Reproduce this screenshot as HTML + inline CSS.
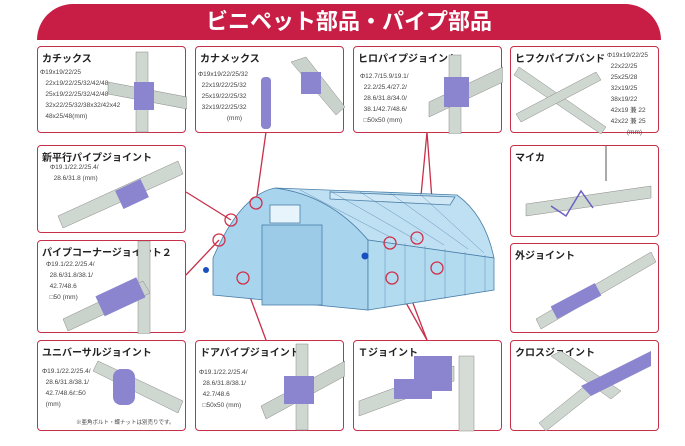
<!DOCTYPE html>
<html><head><meta charset="utf-8"><style>
body{margin:0;width:685px;height:446px;background:#fff;position:relative;overflow:hidden;font-family:"Liberation Sans","Noto Sans CJK JP",sans-serif}
.b{position:absolute;border:1.5px solid #c8304a;border-radius:4px;background:#fff;box-sizing:border-box}
.t{position:absolute;left:4px;top:3px;font-size:10px;font-weight:bold;color:#222;white-space:nowrap}
.s{position:absolute;font-size:6.5px;color:#444;line-height:11px;white-space:nowrap}
svg{position:absolute;left:0;top:0}
</style></head><body>
<div style="position:absolute;left:37px;top:4px;width:624px;height:36px;background:#c81e45;border-radius:40px 40px 0 0;color:#fff;font-weight:bold;font-size:22px;text-align:center;line-height:36px">ビニペット部品・パイプ部品</div>

<svg width="685" height="446">
<g stroke="#c8304a" stroke-width="1.3" fill="none">
<line x1="266" y1="132" x2="256" y2="203"/><line x1="427" y1="132" x2="417" y2="238"/><line x1="427" y1="132" x2="437" y2="268"/>
<line x1="186" y1="192" x2="231" y2="220"/><line x1="186" y1="275" x2="219" y2="240"/>
<line x1="266" y1="340" x2="243" y2="278"/><line x1="427" y1="340" x2="390" y2="243"/><line x1="427" y1="340" x2="392" y2="278"/>
</g>
<g stroke="#4a7fa8" stroke-width="0.8">
<path d="M213,295 L213,258 Q240,195 275,188 Q330,195 368,240 L368,310 Z" fill="#a9d4ee"/>
<path d="M275,188 L457,195 Q485,215 494,258 L368,240 Q330,195 275,188Z" fill="#bfe0f3"/>
<path d="M368,240 L494,258 L494,290 L368,310Z" fill="#b3dbf0"/>
<rect x="262" y="225" width="60" height="80" fill="#9ccbe8"/>
<rect x="270" y="205" width="30" height="18" fill="#e8f4fb"/>
<path d="M330,192 L455,197 L450,205 L330,199Z" fill="#d0e8f5"/>
</g>
<g stroke="#4a7fa8" stroke-width="0.4">
<line x1="385" y1="240" x2="385" y2="308"/><line x1="405" y1="243" x2="405" y2="305"/><line x1="425" y1="246" x2="425" y2="302"/><line x1="445" y1="249" x2="445" y2="299"/><line x1="465" y1="252" x2="465" y2="296"/><line x1="485" y1="255" x2="485" y2="292"/>
<line x1="300" y1="190" x2="392" y2="238"/><line x1="330" y1="191" x2="418" y2="241"/><line x1="360" y1="192" x2="444" y2="245"/><line x1="390" y1="193" x2="468" y2="249"/><line x1="420" y1="194" x2="484" y2="253"/>
</g>
<g stroke="#d0304a" stroke-width="1.3" fill="none">
<circle cx="256" cy="203" r="6"/><circle cx="231" cy="220" r="6"/><circle cx="219" cy="240" r="6"/><circle cx="243" cy="278" r="6"/><circle cx="390" cy="243" r="6"/><circle cx="417" cy="238" r="6"/><circle cx="437" cy="268" r="6"/><circle cx="392" cy="278" r="6"/>
</g>
<circle cx="365" cy="256" r="3.5" fill="#1a4fc0"/><circle cx="206" cy="270" r="3" fill="#1a4fc0"/>
</svg>

<div class="b" style="left:37px;top:46px;width:149px;height:87px"><div class="t">カチックス</div>
<div class="s" style="left:2px;top:20px">Φ19x19/22/25<br>&nbsp;&nbsp;&nbsp;22x19/22/25/32/42/48<br>&nbsp;&nbsp;&nbsp;25x19/22/25/32/42/48<br>&nbsp;&nbsp;&nbsp;32x22/25/32/38x32/42x42<br>&nbsp;&nbsp;&nbsp;48x25/48(mm)</div>
<svg width="149" height="87"><rect x="98" y="5" width="12" height="80" fill="#cfd8d0" stroke="#888" stroke-width=".5"/><path d="M70,35 L149,50 L149,62 L70,47Z" fill="#c9d3cb" stroke="#888" stroke-width=".5"/><rect x="96" y="35" width="20" height="28" fill="#8b85cf"/></svg></div>

<div class="b" style="left:195px;top:46px;width:149px;height:87px"><div class="t">カナメックス</div>
<div class="s" style="left:2px;top:22px">Φ19x19/22/25/32<br>&nbsp;&nbsp;22x19/22/25/32<br>&nbsp;&nbsp;25x19/22/25/32<br>&nbsp;&nbsp;32x19/22/25/32<br>&nbsp;&nbsp;&nbsp;&nbsp;&nbsp;&nbsp;&nbsp;&nbsp;&nbsp;&nbsp;&nbsp;&nbsp;&nbsp;&nbsp;&nbsp;&nbsp;(mm)</div>
<svg width="149" height="87"><rect x="65" y="30" width="10" height="52" rx="4" fill="#8b85cf"/><path d="M95,15 L110,10 L149,60 L140,68Z" fill="#c9d3cb" stroke="#888" stroke-width=".5"/><rect x="105" y="25" width="20" height="22" fill="#8b85cf"/></svg></div>

<div class="b" style="left:353px;top:46px;width:149px;height:87px"><div class="t">ヒロパイプジョイント</div>
<div class="s" style="left:6px;top:24px">Φ12.7/15.9/19.1/<br>&nbsp;&nbsp;22.2/25.4/27.2/<br>&nbsp;&nbsp;28.6/31.8/34.0/<br>&nbsp;&nbsp;38.1/42.7/48.6/<br>&nbsp;&nbsp;□50x50 (mm)</div>
<svg width="149" height="87"><rect x="95" y="8" width="12" height="79" fill="#cfd8d0" stroke="#888" stroke-width=".5"/><path d="M75,55 L149,20 L149,35 L75,70Z" fill="#c9d3cb" stroke="#888" stroke-width=".5"/><rect x="90" y="30" width="25" height="30" fill="#8b85cf"/></svg></div>

<div class="b" style="left:510px;top:46px;width:149px;height:87px"><div class="t">ヒフクパイプバンド</div>
<div class="s" style="left:96px;top:3px">Φ19x19/22/25<br>&nbsp;&nbsp;22x22/25<br>&nbsp;&nbsp;25x25/28<br>&nbsp;&nbsp;32x19/25<br>&nbsp;&nbsp;38x19/22<br>&nbsp;&nbsp;42x19 兼 22<br>&nbsp;&nbsp;42x22 兼 25<br>&nbsp;&nbsp;&nbsp;&nbsp;&nbsp;&nbsp;&nbsp;&nbsp;&nbsp;&nbsp;&nbsp;(mm)</div>
<svg width="149" height="87"><path d="M3,28 L8,20 L95,80 L90,87Z" fill="#cfd8d0" stroke="#888" stroke-width=".5"/><path d="M10,75 L5,67 L85,25 L90,33Z" fill="#cfd8d0" stroke="#888" stroke-width=".5"/></svg></div>

<div class="b" style="left:37px;top:145px;width:149px;height:88px"><div class="t">新平行パイプジョイント</div>
<div class="s" style="left:12px;top:16px">Φ19.1/22.2/25.4/<br>&nbsp;&nbsp;28.6/31.8 (mm)</div>
<svg width="149" height="88"><path d="M25,82 L20,70 L140,15 L145,28Z" fill="#cfd8d0" stroke="#888" stroke-width=".5"/><rect x="80" y="38" width="28" height="20" fill="#8b85cf" transform="rotate(-25 94 48)"/></svg></div>

<div class="b" style="left:37px;top:240px;width:149px;height:93px"><div class="t">パイプコーナージョイント２</div>
<div class="s" style="left:8px;top:18px">Φ19.1/22.2/25.4/<br>&nbsp;&nbsp;28.6/31.8/38.1/<br>&nbsp;&nbsp;42.7/48.6<br>&nbsp;&nbsp;□50 (mm)</div>
<svg width="149" height="93"><rect x="100" y="0" width="12" height="93" fill="#cfd8d0" stroke="#888" stroke-width=".5"/><path d="M30,90 L25,78 L105,40 L112,52Z" fill="#c9d3cb" stroke="#888" stroke-width=".5"/><rect x="60" y="45" width="45" height="22" fill="#8b85cf" transform="rotate(-25 82 56)"/></svg></div>

<div class="b" style="left:510px;top:145px;width:149px;height:92px"><div class="t">マイカ</div>
<svg width="149" height="92"><path d="M15,70 L15,58 L140,40 L140,52Z" fill="#cfd8d0" stroke="#888" stroke-width=".5"/><path d="M40,60 L55,70 L70,45 L82,62" stroke="#6a60c0" stroke-width="1.5" fill="none"/><line x1="95" y1="0" x2="95" y2="35" stroke="#555"/></svg></div>

<div class="b" style="left:510px;top:243px;width:149px;height:90px"><div class="t">外ジョイント</div>
<svg width="149" height="90"><path d="M30,85 L25,75 L140,8 L145,18Z" fill="#cfd8d0" stroke="#888" stroke-width=".5"/><rect x="40" y="50" width="50" height="14" fill="#8b85cf" transform="rotate(-28 65 57)"/></svg></div>

<div class="b" style="left:37px;top:340px;width:149px;height:91px"><div class="t">ユニバーサルジョイント</div>
<div class="s" style="left:4px;top:25px">Φ19.1/22.2/25.4/<br>&nbsp;&nbsp;28.6/31.8/38.1/<br>&nbsp;&nbsp;42.7/48.6/□50<br>&nbsp;&nbsp;(mm)</div>
<div class="s" style="left:38px;top:77px;font-size:5.5px">※亜角ボルト・蝶ナットは別売りです。</div>
<svg width="149" height="91"><path d="M55,30 L60,20 L145,60 L140,72Z" fill="#cfd8d0" stroke="#888" stroke-width=".5"/><rect x="75" y="28" width="22" height="36" rx="8" fill="#8b85cf"/></svg></div>

<div class="b" style="left:195px;top:340px;width:149px;height:91px"><div class="t">ドアパイプジョイント</div>
<div class="s" style="left:3px;top:26px">Φ19.1/22.2/25.4/<br>&nbsp;&nbsp;28.6/31.8/38.1/<br>&nbsp;&nbsp;42.7/48.6<br>&nbsp;&nbsp;□50x50 (mm)</div>
<svg width="149" height="91"><rect x="100" y="3" width="12" height="86" fill="#cfd8d0" stroke="#888" stroke-width=".5"/><path d="M65,65 L149,20 L149,35 L70,78Z" fill="#c9d3cb" stroke="#888" stroke-width=".5"/><rect x="88" y="35" width="30" height="28" fill="#8b85cf"/></svg></div>

<div class="b" style="left:353px;top:340px;width:149px;height:91px"><div class="t">Ｔジョイント</div>
<svg width="149" height="91"><path d="M5,75 L5,60 L100,25 L100,40Z" fill="#cfd8d0" stroke="#888" stroke-width=".5"/><rect x="105" y="15" width="15" height="75" fill="#d5dcd5" stroke="#888" stroke-width=".5"/><rect x="60" y="15" width="38" height="35" fill="#8b85cf"/><rect x="40" y="38" width="38" height="20" fill="#8b85cf"/></svg></div>

<div class="b" style="left:510px;top:340px;width:149px;height:91px"><div class="t">クロスジョイント</div>
<svg width="149" height="91"><path d="M40,15 L50,10 L110,50 L100,58Z" fill="#cfd8d0" stroke="#888" stroke-width=".5"/><path d="M35,90 L28,82 L80,40 L88,48Z" fill="#cfd8d0" stroke="#888" stroke-width=".5"/><path d="M70,45 L140,10 L140,25 L80,55Z" fill="#8b85cf"/></svg></div>
</body></html>
